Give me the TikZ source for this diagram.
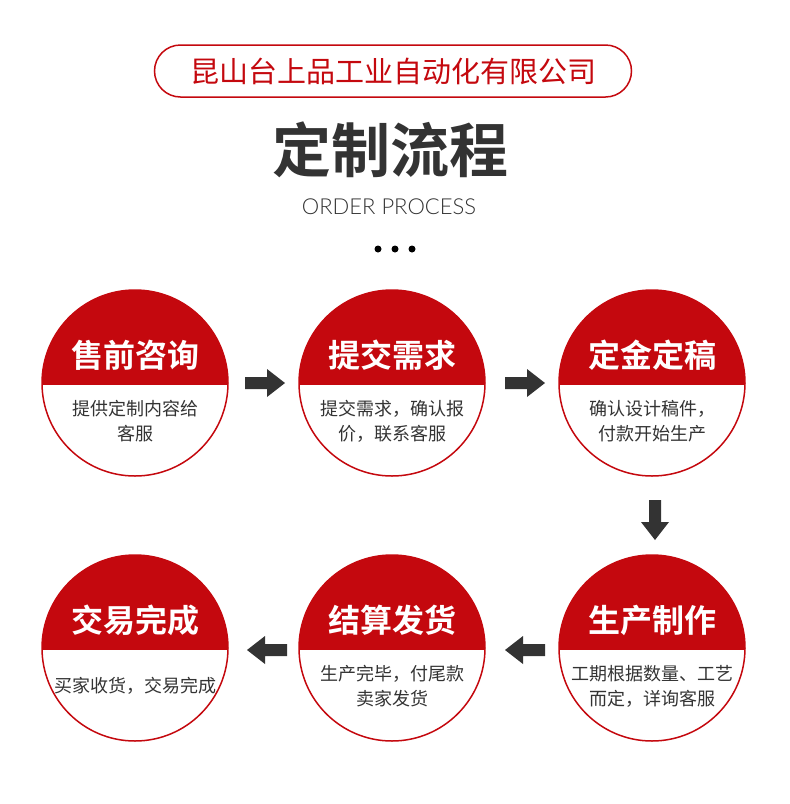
\documentclass[tikz,border=0pt]{standalone}
\usepackage{fontspec}
\setmainfont{Noto Sans CJK SC}
\newfontfamily\cjkbold{Noto Sans CJK SC Bold}
\newfontfamily\latinlight{Lato Light}
\definecolor{tsred}{HTML}{C4080E}
\definecolor{tsdark}{HTML}{333333}
\tikzset{
  stepring/.style={circle,draw=tsred,line width=1.5pt,minimum size=186pt,inner sep=0pt},
  steptitle/.style={text=white,font=\cjkbold\fontsize{32}{32}\selectfont},
  stepdesc/.style={text=tsdark,font=\fontsize{18}{25}\selectfont,align=center},
  flow/.style={fill=tsdark}
}
\newcommand\procstep[5]{%
  \begin{scope}
    \clip (#1,#2) circle (93);
    \fill[tsred] (#1-100,#2-100) rectangle (#1+100,#2+2);
  \end{scope}
  \node[stepring] (#3) at (#1,#2) {};
  \node[steptitle] at (#1,#2-28) {#4};
  \node[stepdesc] at (#1,#2+38) {#5};
}
% block arrow pointing right, centred at origin
\newcommand\flowarrow[3]{%
  \fill[flow,shift={(#1,#2)},rotate=#3] (-20,-6) -- (2,-6) -- (2,-14) -- (20,0) -- (2,14) -- (2,6) -- (-20,6) -- cycle;
}
\begin{document}
\begin{tikzpicture}[x=1pt,y=-1pt]
  \useasboundingbox (0,0) rectangle (790,804);
  % header
  \node[draw=tsred,line width=1.5pt,rounded corners=26pt,minimum width=477pt,minimum height=52pt,
    text=tsred,font=\fontsize{29}{29}\selectfont] (company) at (393,71) {昆山台上品工业自动化有限公司};
  \node[text=tsdark,font=\cjkbold\fontsize{59}{59}\selectfont] (title) at (390,150) {定制流程};
  \node[text=tsdark,font=\latinlight\fontsize{22}{22}\selectfont] (sub) at (389,207) {ORDER PROCESS};
  \foreach \x in {378,395,412} \fill[black] (\x,249) circle (3.5);
  % steps
  \procstep{135}{383}{c1}{售前咨询}{提供定制内容给\\客服}
  \procstep{392}{383}{c2}{提交需求}{提交需求，确认报\\价，联系客服}
  \procstep{652}{383}{c3}{定金定稿}{确认设计稿件，\\付款开始生产}
  \procstep{652}{648}{c4}{生产制作}{工期根据数量、工艺\\而定，详询客服}
  \procstep{392}{648}{c5}{结算发货}{生产完毕，付尾款\\卖家发货}
  \procstep{135}{648}{c6}{交易完成}{买家收货，交易完成}
  % arrows
  \flowarrow{265}{383}{0}
  \flowarrow{525}{383}{0}
  \flowarrow{655}{520}{-90}
  \flowarrow{525}{650}{180}
  \flowarrow{267}{650}{180}
\end{tikzpicture}
\end{document}
